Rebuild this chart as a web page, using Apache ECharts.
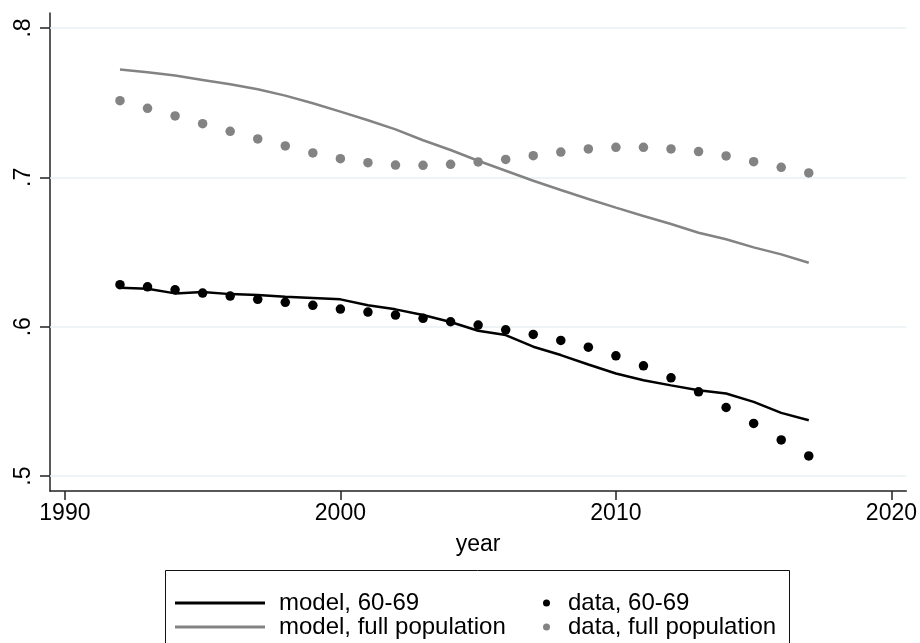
<!DOCTYPE html>
<html>
<head>
<meta charset="utf-8">
<script src="https://cdn.jsdelivr.net/npm/echarts@6/dist/echarts.min.js"></script>
<style>
html,body{margin:0;padding:0;background:#fff;}
#chart{width:920px;height:643px;}
</style>
</head>
<body>
<div id="chart"></div>
<script>
var years = [1992,1993,1994,1995,1996,1997,1998,1999,2000,2001,2002,2003,2004,2005,2006,2007,2008,2009,2010,2011,2012,2013,2014,2015,2016,2017];
var model6069 = [0.6261,0.6254,0.6223,0.6232,0.6218,0.6212,0.6200,0.6192,0.6183,0.6143,0.6116,0.6078,0.6031,0.5973,0.5944,0.5866,0.5810,0.5747,0.5687,0.5642,0.5607,0.5575,0.5553,0.5497,0.5423,0.5374];
var data6069 = [0.6281,0.6267,0.6247,0.6225,0.6205,0.6183,0.6163,0.6143,0.6118,0.6098,0.6078,0.6056,0.6033,0.6011,0.5979,0.5948,0.5908,0.5863,0.5805,0.5738,0.5658,0.5564,0.5459,0.5352,0.5242,0.5135];
var modelFull = [0.7721,0.7703,0.7681,0.7652,0.7623,0.7589,0.7547,0.7496,0.7440,0.7382,0.7321,0.7248,0.7183,0.7111,0.7044,0.6977,0.6915,0.6855,0.6797,0.6741,0.6687,0.6629,0.6585,0.6531,0.6484,0.6428];
var dataFull = [0.7513,0.7462,0.7411,0.7359,0.7308,0.7257,0.7210,0.7163,0.7125,0.7098,0.7082,0.7080,0.7087,0.7103,0.7120,0.7145,0.7169,0.7190,0.7201,0.7201,0.7190,0.7172,0.7143,0.7105,0.7067,0.7029];
var xTicks = [1990,2000,2010,2020];
var yTicks = [0.5,0.6,0.7,0.8];

function pairs(xs, ys){ return xs.map(function(x,i){ return [x, ys[i]]; }); }

var FONT = 'Liberation Sans, Arial, sans-serif';
var BLACK = '#000000';
var GREY = '#838383';

var chart = echarts.init(document.getElementById('chart'), null, {renderer:'canvas'});
chart.setOption({
  animation: false,
  backgroundColor: '#ffffff',
  textStyle: {fontFamily: FONT},
  grid: {left: 50, right: 13, top: 13, bottom: 152, containLabel: false},
  xAxis: {
    type: 'value', min: 1989.46, max: 2020.54,
    name: 'year', nameLocation: 'middle', nameGap: 42,
    nameTextStyle: {fontSize: 23, color: BLACK, fontFamily: FONT},
    axisLine: {show: true, onZero: false, lineStyle: {color: '#222', width: 1.5}},
    axisTick: {show: true, length: 9, customValues: xTicks, lineStyle: {color: '#222', width: 1.5}},
    axisLabel: {customValues: xTicks, fontSize: 23, color: BLACK, margin: 11, fontFamily: FONT,
      formatter: function(v){ return String(Math.round(v)); }},
    splitLine: {show: false}
  },
  yAxis: {
    type: 'value', min: 0.49, max: 0.81,
    axisLine: {show: true, onZero: false, lineStyle: {color: '#222', width: 1.5}},
    axisTick: {show: true, length: 10, customValues: yTicks, lineStyle: {color: '#222', width: 1.5}},
    axisLabel: {customValues: yTicks, rotate: 90, fontSize: 23, color: BLACK, margin: 15, fontFamily: FONT,
      formatter: function(v){ return String(Math.round(v*10)/10).replace(/^0/, ''); }},
    splitLine: {show: false}
  },
  legend: [
    {
      data: ['model, 60-69', 'model, full population'],
      orient: 'vertical', left: 175, top: 591, padding: 0, height: 52,
      icon: 'rect', itemWidth: 90, itemHeight: 3, itemGap: 0,
      textStyle: {fontSize: 24, lineHeight: 24, color: BLACK, fontFamily: FONT, padding: [0,0,0,9]}
    },
    {
      data: ['data, 60-69', 'data, full population'],
      orient: 'vertical', left: 543, top: 591, padding: 0, height: 52,
      icon: 'circle', itemWidth: 7, itemHeight: 7, itemGap: 0,
      textStyle: {fontSize: 24, lineHeight: 24, color: BLACK, fontFamily: FONT, padding: [0,0,0,13]}
    }
  ],
  graphic: [{
    type: 'rect', silent: true,
    shape: {x: 165.5, y: 570.5, width: 624, height: 100},
    style: {fill: null, stroke: '#111', lineWidth: 1}
  }],
  series: [
    {
      name: 'model, full population', type: 'line', data: pairs(years, modelFull),
      symbol: 'none', showSymbol: false, lineStyle: {color: GREY, width: 2.5}, itemStyle: {color: GREY},
      z: 2,
      markLine: {
        silent: true, symbol: 'none', label: {show: false},
        lineStyle: {color: '#e9f0f3', width: 1.5, type: 'solid'},
        data: yTicks.map(function(v){ return {yAxis: v}; }),
        z: 1
      }
    },
    {
      name: 'data, full population', type: 'scatter', data: pairs(years, dataFull),
      symbol: 'circle', symbolSize: 9.5, itemStyle: {color: GREY, opacity: 1}, z: 3
    },
    {
      name: 'model, 60-69', type: 'line', data: pairs(years, model6069),
      symbol: 'none', showSymbol: false, lineStyle: {color: BLACK, width: 2.5}, itemStyle: {color: BLACK}, z: 4
    },
    {
      name: 'data, 60-69', type: 'scatter', data: pairs(years, data6069),
      symbol: 'circle', symbolSize: 9.5, itemStyle: {color: BLACK, opacity: 1}, z: 5
    }
  ]
});
</script>
</body>
</html>
